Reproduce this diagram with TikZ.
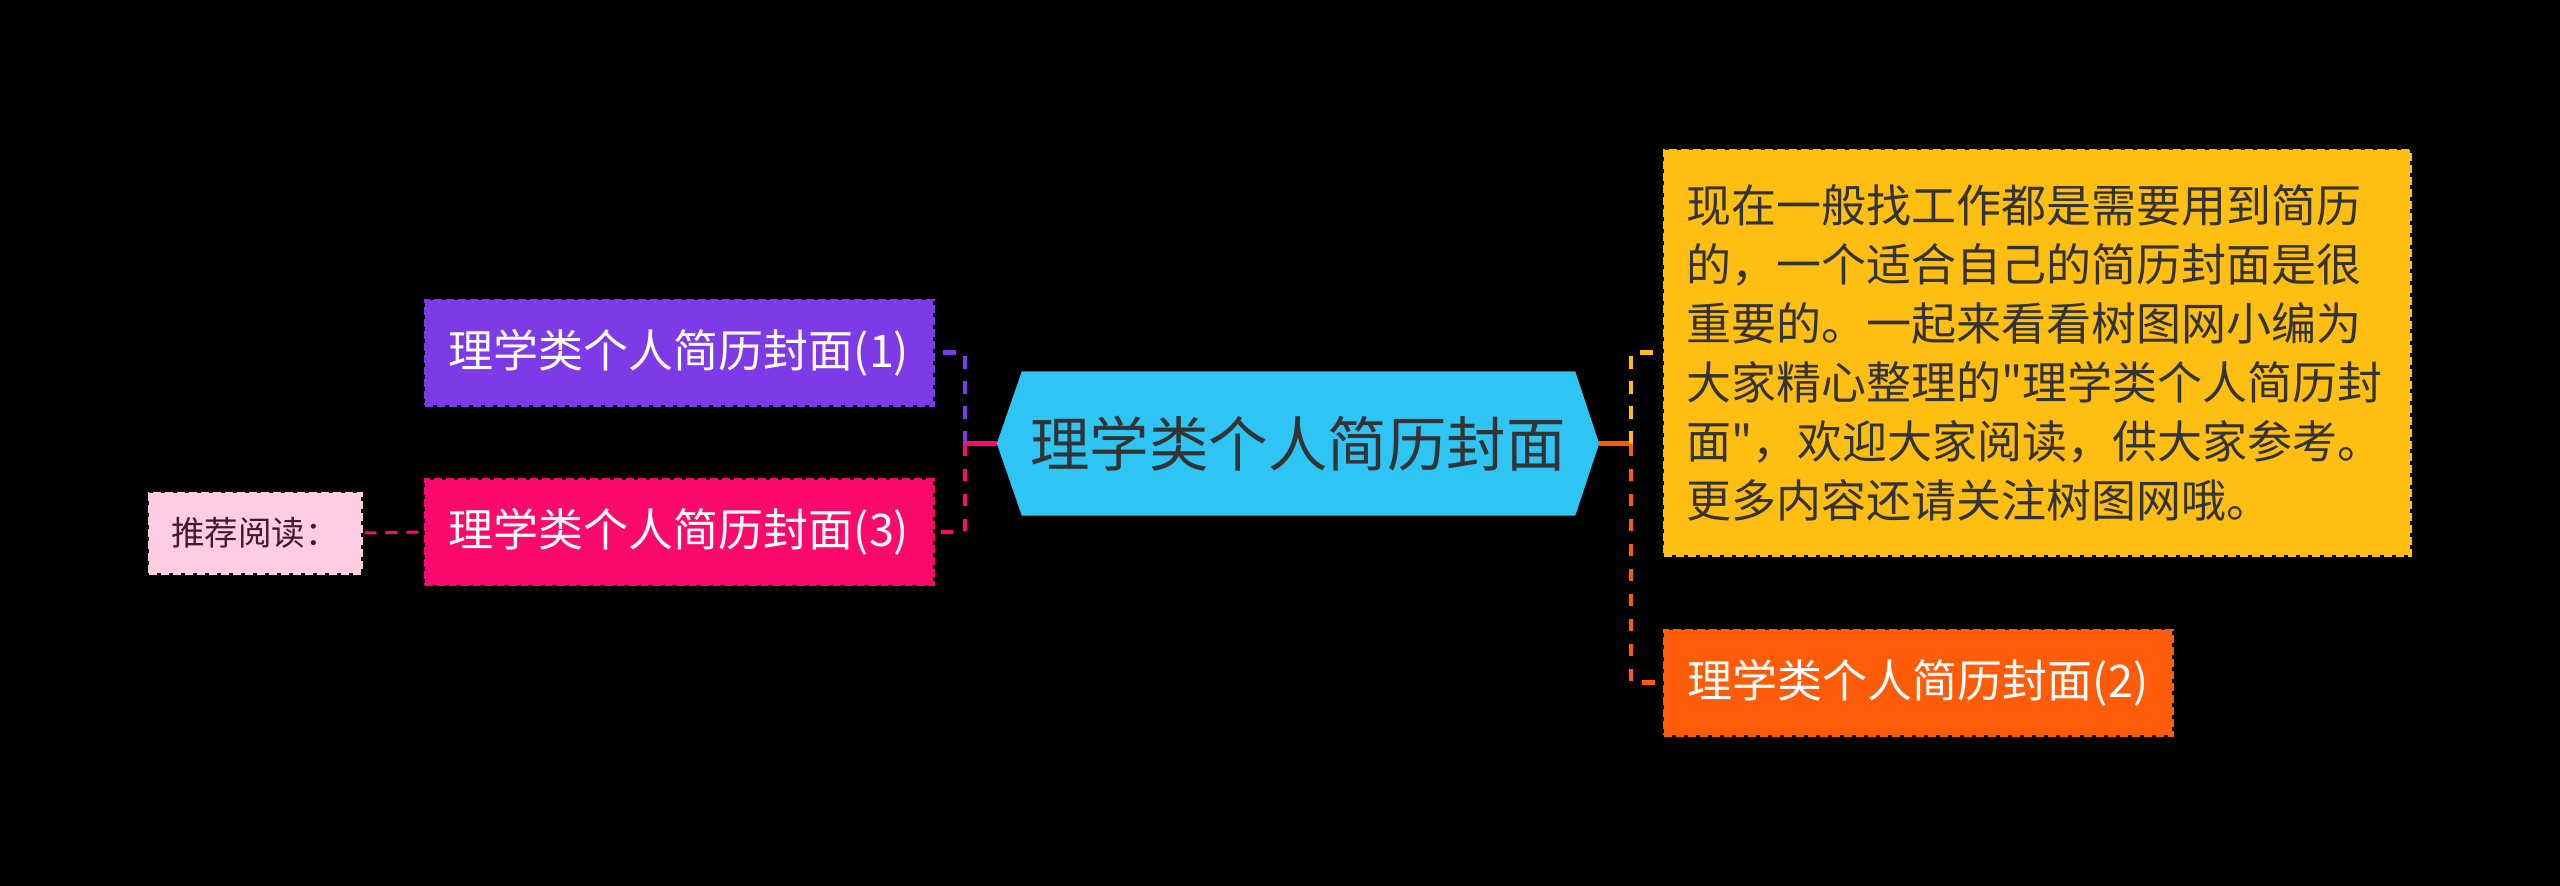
\documentclass[tikz,border=0pt]{standalone}
\usepackage{fontspec}
\setmainfont{Noto Sans CJK SC}[Ligatures=TeXOff]
\usetikzlibrary{calc}
\pgfdeclarelayer{bottom}
\pgfdeclarelayer{back}
\pgfsetlayers{bottom,back,main}
\definecolor{cblue}{HTML}{2EC4F4}
\definecolor{cpurple}{HTML}{7D3AE6}
\definecolor{cpink}{HTML}{FA0A6A}
\definecolor{clpink}{HTML}{FFCCE2}
\definecolor{cyellow}{HTML}{FFBE12}
\definecolor{corange}{HTML}{FF5C0A}
\definecolor{cdark}{HTML}{333333}
\definecolor{cmaroon}{HTML}{401B2C}
\begin{document}
\begin{tikzpicture}[x=1pt,y=-1pt,
  box/.style={rectangle, inner sep=0pt, line width=3pt, dash pattern=on 8pt off 4pt,
    font=\fontsize{45}{59}\selectfont},
  kidbox/.style={box, minimum width=508pt, minimum height=105pt, text=white, fill=#1, draw=#1},
  link/.style={line width=4.5pt, dash pattern=on 12.5pt off 12.5pt, #1},
  trunk/.style={line width=4.5pt, #1}]
\begin{pgfonlayer}{bottom}
\fill[black] (0,0) rectangle (2560,886);
\end{pgfonlayer}
\useasboundingbox (0,0) rectangle (2560,886);

% central node
\node[inner sep=0pt, minimum width=602pt, minimum height=144pt, text=cdark,
      font=\fontsize{59.5}{70}\selectfont] (c) at (1298,443.5) {理学类个人简历封面};
\begin{pgfonlayer}{back}
\fill[cblue] (c.west) -- ([xshift=25pt]c.north west) -- ([xshift=-24pt]c.north east)
  -- (c.east) -- ([xshift=-24pt]c.south east) -- ([xshift=25pt]c.south west) -- cycle;
\end{pgfonlayer}

% left children
\node[kidbox=cpurple] (p1) at (679,352.5) {理学类个人简历封面(1)};
\node[kidbox=cpink] (p3) at (679,532) {理学类个人简历封面(3)};
\node[box, fill=clpink, draw=clpink, minimum width=212pt, minimum height=80pt,
      text=cmaroon, font=\fontsize{33.5}{40}\selectfont] (lp) at (255,533) {推荐阅读：};

% right children
\node[box, fill=cyellow, draw=cyellow, minimum width=746pt, minimum height=405pt,
      text=cdark, text width=702pt, align=left] (y) at (2037,352.5)
  {现在一般找工作都是需要用到简历\\
   的，一个适合自己的简历封面是很\\
   重要的。一起来看看树图网小编为\\
   大家精心整理的\symbol{"22}理学类个人简历封\\
   面\symbol{"22}，欢迎大家阅读，供大家参考。\\
   更多内容还请关注树图网哦。};
\node[kidbox=corange] (o) at (1918,682.5) {理学类个人简历封面(2)};

% connectors
\coordinate (lj) at ([xshift=-32pt]c.west);
\coordinate (rj) at ([xshift=32pt]c.east);
\draw[trunk=cpink] (c.west) -- (lj);
\draw[link=cpurple] (lj) |- (p1.east);
\draw[link=cpink] (lj) |- (p3.east);
\draw[cpink, line width=3pt, dash pattern=on 12pt off 9pt, dash phase=19pt] (lp.east) -- (p3.west);
\draw[trunk=corange] (c.east) -- (rj);
\draw[link=cyellow] (rj) |- (y.west);
\draw[link=corange] (rj) |- (o.west);
\end{tikzpicture}
\end{document}
